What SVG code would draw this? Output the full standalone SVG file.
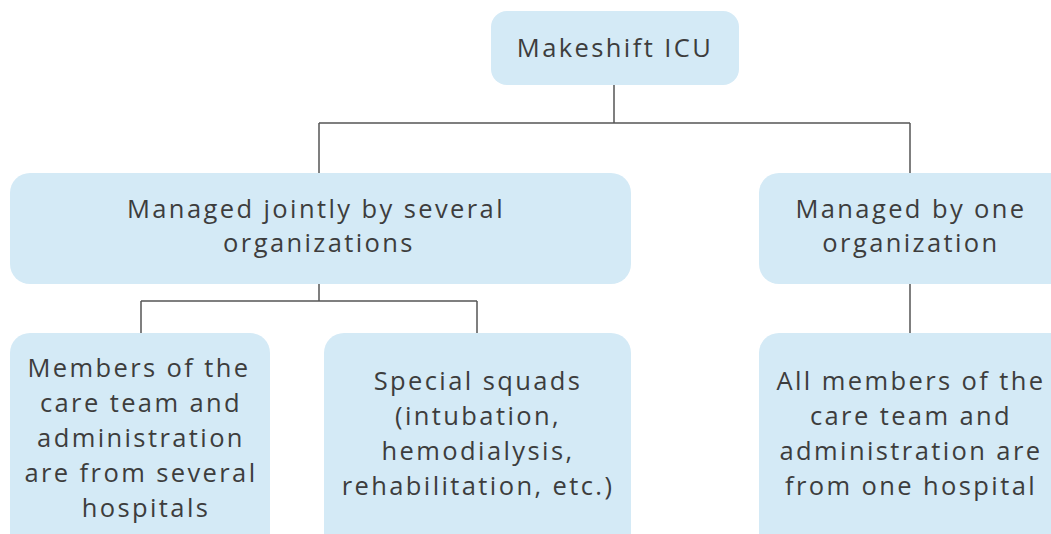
<svg xmlns="http://www.w3.org/2000/svg" width="1051" height="534" viewBox="0 0 1051 534">
<style>
.box{fill:#d4eaf6;}
.t{font-family:"Open Sans","Noto Sans",sans-serif;font-size:25.5px;fill:#3d3d3d;letter-spacing:2.4px;text-anchor:middle;}
.c{fill:none;stroke:#555555;stroke-width:1.5;}
</style>
<rect width="1051" height="534" fill="#ffffff"/>
<g id="connectors">
<path class="c" d="M614 85V123M319 123H910M319 123V173M910 123V173"/>
<path class="c" d="M319 284V301M141 301H477M141 301V334M477 301V334"/>
<path class="c" d="M910 284V334"/>
</g>
<g id="n1">
<rect class="box" x="491" y="11" width="248" height="74" rx="16"/>
<text class="t" x="615" y="57">Makeshift ICU</text>
</g>
<g id="n2">
<rect class="box" x="10" y="173" width="621" height="111" rx="20"/>
<text class="t" x="316" y="218">Managed jointly by several</text>
<text class="t" x="319" y="252">organizations</text>
</g>
<g id="n3">
<rect class="box" x="759" y="173" width="320" height="111" rx="20"/>
<text class="t" x="911" y="218">Managed by one</text>
<text class="t" x="911" y="252">organization</text>
</g>
<g id="n4">
<rect class="box" x="10" y="333" width="260" height="230" rx="20"/>
<text class="t" x="139" y="377">Members of the</text>
<text class="t" x="141" y="412">care team and</text>
<text class="t" x="141" y="447">administration</text>
<text class="t" x="141" y="482">are from several</text>
<text class="t" x="146" y="517">hospitals</text>
</g>
<g id="n5">
<rect class="box" x="324" y="333" width="307" height="230" rx="20"/>
<text class="t" x="478" y="390">Special squads</text>
<text class="t" x="478" y="425">(intubation,</text>
<text class="t" x="478" y="460">hemodialysis,</text>
<text class="t" x="478" y="495">rehabilitation, etc.)</text>
</g>
<g id="n6">
<rect class="box" x="759" y="333" width="320" height="230" rx="20"/>
<text class="t" x="911" y="390">All members of the</text>
<text class="t" x="911" y="425">care team and</text>
<text class="t" x="911" y="460">administration are</text>
<text class="t" x="911" y="495">from one hospital</text>
</g>
</svg>
